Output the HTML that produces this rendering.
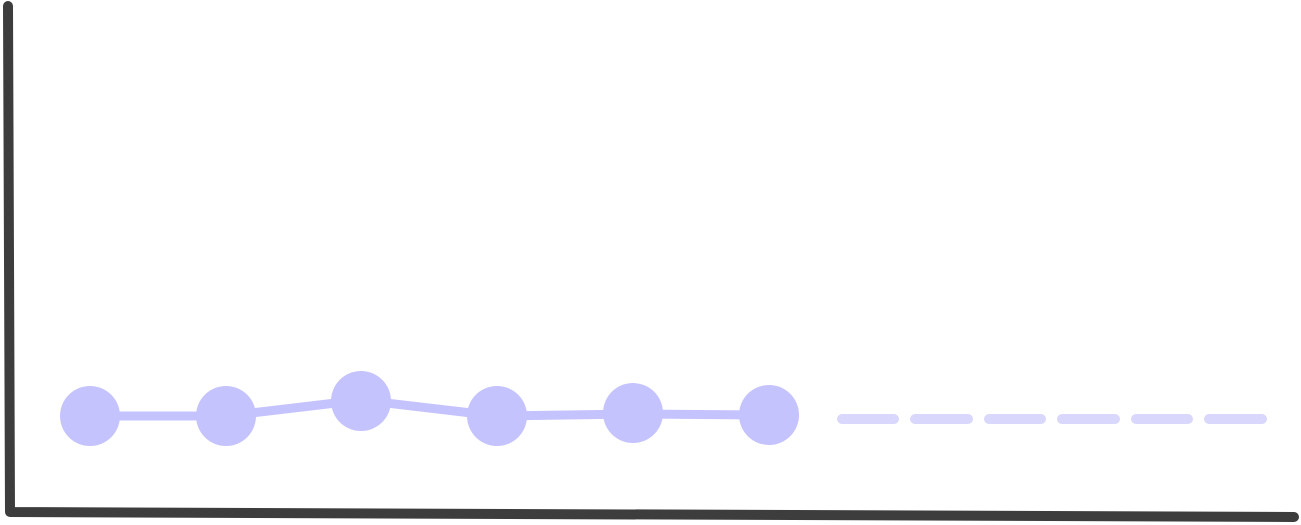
<!DOCTYPE html>
<html><head><meta charset="utf-8"><style>html,body{margin:0;padding:0;background:#fff}svg{display:block}</style></head>
<body>
<svg width="1301" height="525" viewBox="0 0 1301 525" xmlns="http://www.w3.org/2000/svg">
<path d="M8 6 L10 512 L1294 517" fill="none" stroke="#3d3d3d" stroke-width="10" stroke-linecap="round" stroke-linejoin="round"/>
<polyline points="90,416 226,416 361,400 497,416 633,414 769,415" fill="none" stroke="#c5c3fd" stroke-width="9" stroke-linejoin="round"/>
<g fill="#c5c3fd">
<circle cx="90" cy="416" r="30"/>
<circle cx="226" cy="416" r="30"/>
<circle cx="361" cy="401" r="30"/>
<circle cx="497" cy="416" r="30"/>
<circle cx="633" cy="413" r="30"/>
<circle cx="769" cy="415" r="30"/>
</g>
<g stroke="#d9d7fc" stroke-width="10" stroke-linecap="round">
<line x1="842" y1="419" x2="894" y2="419"/>
<line x1="915" y1="419" x2="968" y2="419"/>
<line x1="989" y1="419" x2="1041" y2="419"/>
<line x1="1062" y1="419" x2="1115" y2="419"/>
<line x1="1136" y1="419" x2="1188" y2="419"/>
<line x1="1209" y1="419" x2="1262" y2="419"/>
</g>
</svg>
</body></html>
